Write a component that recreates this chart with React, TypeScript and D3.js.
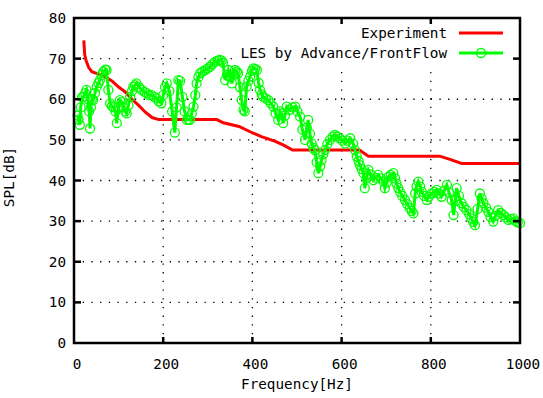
import React from 'react';
import {scaleLinear, line} from 'd3';

// Experiment curve: [frequency Hz, SPL dB]
const experiment: [number, number][] = [
    [22, 74.5], [24, 71], [27, 69.5], [33, 67.8], [40, 66.8], [55, 66.2], [70, 65.5], [85, 64.5],
    [100, 63], [115, 61.8], [130, 60], [145, 58.5], [160, 56.8], [175, 55.5], [190, 55], [320, 55],
    [335, 54.2], [370, 53.3], [395, 52], [420, 50.8], [450, 49.7], [470, 48.7], [490, 47.5], [640, 47.5],
    [660, 46], [820, 46], [843, 45.2], [869, 44.2], [1000, 44.2]
];

// LES by Advance/FrontFlow: [frequency Hz, SPL dB]
const les: [number, number][] = [
    [8, 56], [10, 55], [13, 53.7], [15, 58], [18, 60.5], [21, 60.6], [25, 61.5], [28, 62.3], [31, 60], [34, 57],
    [36, 52.8], [38, 58], [40, 60], [43, 59.8], [47, 61.5], [51, 63.1], [55, 64], [58, 64.7], [62, 66], [66, 66.8],
    [70, 67.3], [73, 67.2], [77, 62.3], [81, 59], [85, 58.3], [89, 58], [93, 57], [96, 54.1], [100, 58], [103, 59.8],
    [107, 59.3], [111, 58], [115, 57], [118, 56.5], [122, 58.5], [126, 60.6], [130, 62], [133, 63.1], [137, 63.5], [140, 63.9],
    [146, 63], [152, 62.3], [158, 61.8], [163, 61.5], [168, 61], [174, 61], [180, 60.6], [185, 60.2], [190, 59.5], [196, 59],
    [200, 61], [204, 63], [208, 63.9], [214, 62], [220, 57], [226, 51.8], [230, 58], [234, 64.7], [238, 64.5], [243, 60.6],
    [248, 57], [253, 54.9], [257, 55], [260, 54.9], [264, 56.5], [268, 58.2], [272, 61], [275, 63.9], [279, 65.5], [283, 66.4],
    [288, 66.8], [294, 67.2], [300, 67.6], [305, 68], [310, 68.6], [316, 69.2], [322, 69.5], [327, 69.7], [331, 69.5], [334, 69],
    [339, 64.7], [343, 66], [346, 67.2], [350, 65.5], [354, 63.9], [358, 66], [361, 67.2], [365, 66.8], [368, 66.4], [372, 63],
    [376, 59.8], [380, 57.4], [383, 57], [387, 63.1], [391, 64.5], [395, 65.6], [399, 67], [402, 67.6], [406, 67.5], [410, 67.2],
    [414, 64], [417, 62.3], [421, 61.2], [424, 60.6], [430, 60.2], [436, 59.8], [441, 59], [447, 58.2], [452, 56.5], [458, 54.9],
    [462, 57], [465, 56.5], [469, 54.1], [473, 56], [477, 58.2], [484, 57.4], [490, 58], [496, 58.2], [501, 57], [507, 55.7],
    [512, 52.5], [518, 50], [522, 53], [525, 54.9], [529, 51.5], [533, 49.1], [537, 48], [540, 47.5], [544, 44.5], [548, 41.8],
    [552, 43.5], [555, 45], [559, 46.5], [563, 47.5], [568, 49], [574, 50], [580, 50.8], [585, 51.2], [590, 50.8], [596, 50.4],
    [602, 49.8], [608, 49.1], [613, 49.8], [619, 50.4], [626, 49.1], [630, 47.5], [634, 45.9], [638, 44.8], [641, 43.8], [645, 42.8],
    [649, 41.8], [652, 38.1], [656, 40.5], [660, 42.6], [665, 41.5], [671, 40.1], [676, 40.7], [682, 41.4], [688, 40.5], [694, 39.7],
    [697, 38.1], [701, 39.5], [705, 40.9], [710, 41.4], [716, 41.8], [720, 40.5], [723, 39.3], [727, 38.2], [731, 37.2], [736, 36.2],
    [742, 35.2], [747, 34.2], [753, 33.2], [757, 32.5], [761, 31.9], [765, 36.8], [768, 38.5], [772, 39.7], [776, 38.5], [780, 37.2],
    [785, 36.2], [791, 35.2], [796, 36], [802, 36.8], [808, 37.2], [813, 37.7], [818, 36.8], [824, 36], [830, 37.5], [836, 38.9],
    [841, 37], [847, 35.2], [851, 31.5], [855, 35], [858, 38.1], [863, 36.2], [869, 34.4], [874, 33.5], [880, 32.7], [886, 31.7],
    [891, 30.7], [895, 29.8], [899, 29], [905, 33], [910, 36.8], [914, 35.6], [918, 34.4], [924, 33.3], [929, 32.3], [934, 31],
    [940, 29.9], [945, 31.3], [951, 32.7], [957, 32], [963, 31.5], [968, 30.9], [974, 30.3], [980, 30.5], [985, 30.7], [990, 30],
    [995, 29.7], [1000, 29.5]
];

const xTicks = [0, 200, 400, 600, 800, 1000];
const yTicks = [0, 10, 20, 30, 40, 50, 60, 70, 80];

const font = '"DejaVu Sans Mono", "Liberation Mono", monospace';

const App = () => {
    let width = 543, height = 398;
    let margin = {left: 74, right: 23, top: 18, bottom: 55};
    let x = scaleLinear().domain([0, 1000]).range([margin.left, width - margin.right]);
    let y = scaleLinear().domain([0, 80]).range([height - margin.bottom, margin.top]);
    let l = line<[number, number]>().x(d => x(d[0])).y(d => y(d[1]));
    let x0 = x(0), x1 = x(1000), y0 = y(0), y1 = y(80);

    return (
        <svg width={width} height={height} style={{position: 'absolute', left: 0, top: 0}} fontFamily={font} fontSize="14.3">
            <rect width={width} height={height} fill="#fff"/>
            {/* grid */}
            <g stroke="#000" strokeWidth="1.3" strokeDasharray="1.3 7.4">
                {xTicks.slice(1, -1).map((t, i) => <line key={i} x1={x(t)} x2={x(t)} y1={y0} y2={y1}/>)}
                {yTicks.slice(1, -1).map((t, i) => <line key={i} x1={x0} x2={x1} y1={y(t)} y2={y(t)}/>)}
            </g>
            {/* legend box clears the grid */}
            <rect x="236" y={y1 + 1} width={x1 - 237} height="46" fill="#fff"/>

            <path d={l(experiment) || ''} fill="none" stroke="#ff0000" strokeWidth="3"/>
            <path d={l(les) || ''} fill="none" stroke="#00ff00" strokeWidth="3"/>
            <g fill="none" stroke="#00ff00" strokeWidth="1.3">
                {les.map((d, i) => <circle key={i} cx={x(d[0])} cy={y(d[1])} r="4.5"/>)}
            </g>

            {/* frame and ticks */}
            <g stroke="#000" strokeWidth="2.5">
                {xTicks.slice(1, -1).map((t, i) => <g key={i}>
                    <line x1={x(t)} x2={x(t)} y1={y0} y2={y0 - 6}/>
                    <line x1={x(t)} x2={x(t)} y1={y1} y2={y1 + 6}/>
                </g>)}
                {yTicks.slice(1, -1).map((t, i) => <g key={i}>
                    <line x1={x0} x2={x0 + 7} y1={y(t)} y2={y(t)}/>
                    <line x1={x1} x2={x1 - 7} y1={y(t)} y2={y(t)}/>
                </g>)}
                <rect x={x0} y={y1} width={x1 - x0} height={y0 - y1} fill="none"/>
            </g>

            {yTicks.map((t, i) => <text key={i} x={x0 - 8} y={y(t)} dy="0.35em" textAnchor="end">{t}</text>)}
            {xTicks.map((t, i) => <text key={i} x={x(t) + 3} y={y0 + 21} dy="0.35em" textAnchor="middle">{t}</text>)}
            <text x={(x0 + x1) / 2} y={y0 + 41} dy="0.35em" textAnchor="middle">Frequency[Hz]</text>
            <text transform={`translate(9,177) rotate(-90)`} dy="0.35em" textAnchor="middle">SPL[dB]</text>

            {/* legend */}
            <text x="447" y="33" dy="0.35em" textAnchor="end">Experiment</text>
            <line x1="459" x2="503" y1="33" y2="33" stroke="#ff0000" strokeWidth="3"/>
            <text x="447" y="53" dy="0.35em" textAnchor="end">LES by Advance/FrontFlow</text>
            <line x1="459" x2="503" y1="53" y2="53" stroke="#00ff00" strokeWidth="3"/>
            <circle cx="481" cy="53" r="4.5" fill="none" stroke="#00ff00" strokeWidth="1.3"/>
        </svg>
    );
};

export default App;
